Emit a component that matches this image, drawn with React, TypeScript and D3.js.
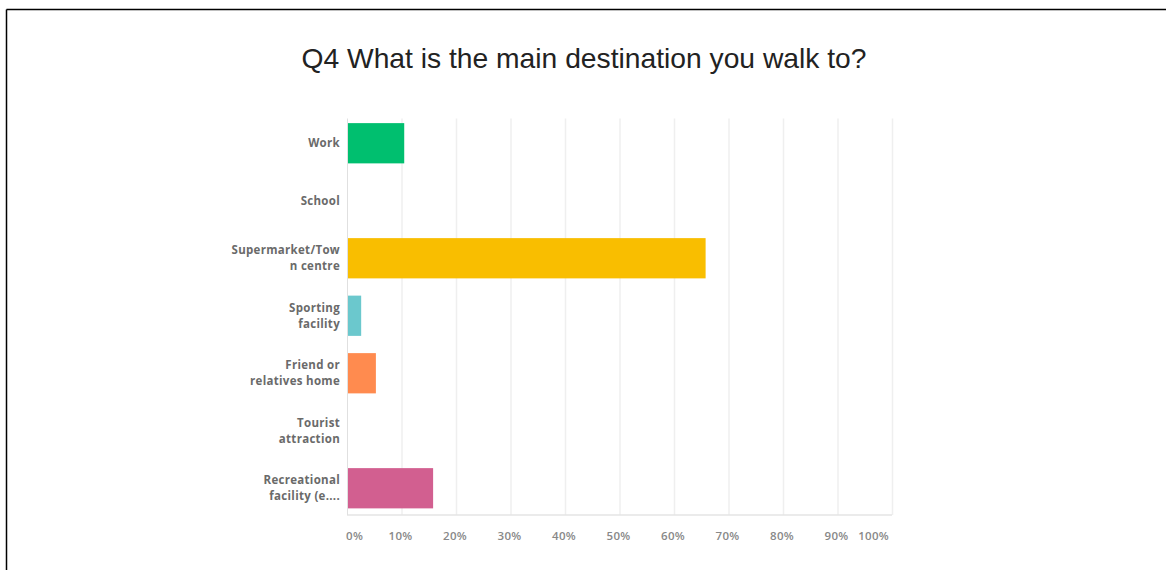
import React, { useEffect, useRef } from "react";
import * as d3 from "d3";

const title = "Q4 What is the main destination you walk to?";
const categories = [
  ["Work"],
  ["School"],
  ["Supermarket/Tow", "n centre"],
  ["Sporting", "facility"],
  ["Friend or", "relatives home"],
  ["Tourist", "attraction"],
  ["Recreational", "facility (e...."],
];
const values = [10.5, 0, 65.8, 2.6, 5.3, 0, 15.8];
const colors = ["#00BF6F", "#507CB6", "#F9BE00", "#6BC8CD", "#FF8B4F", "#7F6BB0", "#D25F90"];
const ticks = [0, 10, 20, 30, 40, 50, 60, 70, 80, 90, 100];

export default function App() {
  const ref = useRef<SVGSVGElement>(null);
  useEffect(() => {
    const svg = d3.select(ref.current);
    svg.selectAll("*").remove();
    const W = 1166, H = 570;
    const left = 347, right = 892, top = 114.5, bottom = 517;
    const x = d3.scaleLinear().domain([0, 100]).range([left, right]);
    const y = d3
      .scaleBand<number>()
      .domain(d3.range(categories.length))
      .range([top, bottom])
      .paddingInner(0.3)
      .paddingOuter(0.15);

    svg.append("rect").attr("width", W).attr("height", H).attr("fill", "#fff");
    // frame
    svg.append("line").attr("x1", 6.5).attr("x2", W).attr("y1", 9.5).attr("y2", 9.5).attr("stroke", "#000").attr("stroke-width", 1.5);
    svg.append("line").attr("x1", 6.5).attr("x2", 6.5).attr("y1", 9.5).attr("y2", H).attr("stroke", "#000").attr("stroke-width", 1.5);

    svg
      .append("text")
      .attr("x", 584)
      .attr("y", 68)
      .attr("text-anchor", "middle")
      .attr("font-family", "Liberation Sans, Arial, sans-serif")
      .attr("font-size", 28)
      .attr("textLength", 565)
      .attr("lengthAdjust", "spacingAndGlyphs")
      .attr("fill", "#222")
      .text(title);

    // grid
    svg
      .append("g")
      .selectAll("line")
      .data(ticks.slice(1))
      .join("line")
      .attr("x1", (d) => x(d) + 0.5)
      .attr("x2", (d) => x(d) + 0.5)
      .attr("y1", top + 4)
      .attr("y2", bottom - 2)
      .attr("stroke", "#efefef")
      .attr("stroke-width", 1.5);

    // baseline
    svg.append("line").attr("x1", left).attr("x2", right).attr("y1", bottom - 2).attr("y2", bottom - 2).attr("stroke", "#e4e4e4").attr("stroke-width", 1.5);
    // vertical axis
    svg.append("line").attr("x1", left + 0.5).attr("x2", left + 0.5).attr("y1", top + 4).attr("y2", bottom - 2).attr("stroke", "#e0e0e0").attr("stroke-width", 1);

    // bars
    svg
      .append("g")
      .selectAll("rect")
      .data(values)
      .join("rect")
      .attr("x", left + 1)
      .attr("y", (_, i) => y(i)!)
      .attr("height", y.bandwidth())
      .attr("width", (d) => Math.max(0, x(d) - left - 1))
      .attr("fill", (_, i) => colors[i]);

    // category labels
    const lab = svg
      .append("g")
      .attr("font-family", "Open Sans, sans-serif")
      .attr("font-size", 11.5)
      .attr("font-weight", 700)
      .attr("letter-spacing", 0.3)
      .attr("fill", "#6a6a6a")
      .attr("text-anchor", "end");
    categories.forEach((lines, i) => {
      const cy = y(i)! + y.bandwidth() / 2;
      const lh = 16;
      lines.forEach((t, j) => {
        lab
          .append("text")
          .attr("x", 340)
          .attr("y", cy + (j - (lines.length - 1) / 2) * lh + 4)
          .text(t);
      });
    });

    // tick labels
    svg
      .append("g")
      .attr("font-family", "Open Sans, sans-serif")
      .attr("font-size", 11.5)
      .attr("font-weight", 600)
      .attr("letter-spacing", 0.3)
      .attr("fill", "#888")
      .selectAll("text")
      .data(ticks)
      .join("text")
      .attr("x", (d) => (d === 0 ? x(d) - 1 : d === 100 ? x(d) - 3 : x(d) - 1))
      .attr("y", 540)
      .attr("text-anchor", (d) => (d === 0 ? "start" : d === 100 ? "end" : "middle"))
      .text((d) => `${d}%`);
  }, []);
  return <svg ref={ref} width={1166} height={570} style={{ position: "absolute", left: 0, top: 0 }} />;
}
